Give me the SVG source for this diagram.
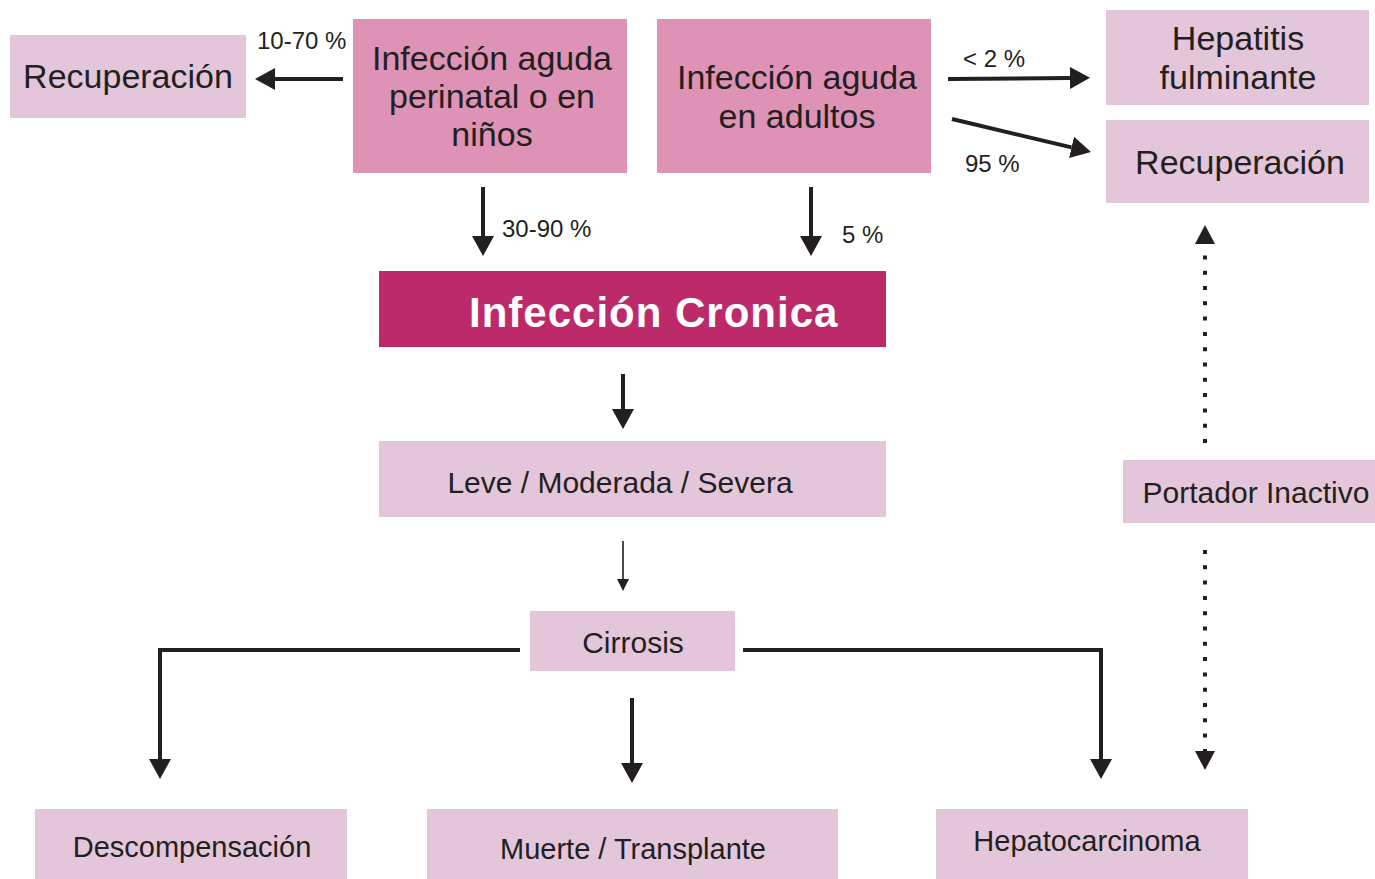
<svg xmlns="http://www.w3.org/2000/svg" width="1375" height="879" viewBox="0 0 1375 879">
<style>
.light{fill:#e3c6d9}
.mid{fill:#de93b6}
.dark{fill:#bd2a6a}
text{font-family:"Liberation Sans",Arial,sans-serif;fill:#231f20}
.big{font-size:34px;text-anchor:middle}
.med{font-size:30px;text-anchor:middle}
.sm{font-size:29px;text-anchor:middle}
.lbl{font-size:24px}
.title{font-size:42px;font-weight:bold;fill:#ffffff;letter-spacing:1px}
.ln{fill:none;stroke:#231f20;stroke-width:4}
.thin{fill:none;stroke:#231f20;stroke-width:1.6}
.dot{fill:none;stroke:#231f20;stroke-width:4;stroke-dasharray:4 11.3}
</style>
<defs>
<marker id="ah" markerUnits="userSpaceOnUse" markerWidth="20" markerHeight="22" refX="0" refY="11" orient="auto" viewBox="0 0 20 22">
<path d="M0,0 L20,11 L0,22 z" fill="#231f20"/>
</marker>
<marker id="ahs" markerUnits="userSpaceOnUse" markerWidth="12" markerHeight="12" refX="0" refY="6" orient="auto" viewBox="0 0 12 12">
<path d="M0,0 L12,6 L0,12 z" fill="#231f20"/>
</marker>
</defs>

<g id="recuperacion-izq">
<rect class="light" x="10" y="35" width="236" height="83"/>
<text class="big" x="128" y="88">Recuperación</text>
</g>
<g id="aguda-ninos">
<rect class="mid" x="353" y="19" width="274" height="154"/>
<text class="big" x="492" y="70">Infección aguda</text>
<text class="big" x="492" y="108">perinatal o en</text>
<text class="big" x="492" y="146">niños</text>
</g>
<g id="aguda-adultos">
<rect class="mid" x="657" y="19" width="274" height="154"/>
<text class="big" x="797" y="89">Infección aguda</text>
<text class="big" x="797" y="128">en adultos</text>
</g>
<g id="hepatitis">
<rect class="light" x="1106" y="10" width="263" height="95"/>
<text class="big" x="1238" y="50">Hepatitis</text>
<text class="big" x="1238" y="89">fulminante</text>
</g>
<g id="recuperacion-der">
<rect class="light" x="1106" y="120" width="263" height="83"/>
<text class="big" x="1240" y="174">Recuperación</text>
</g>
<g id="cronica">
<rect class="dark" x="379" y="271" width="507" height="76"/>
<text class="title" x="469" y="327">Infección Cronica</text>
</g>
<g id="leve">
<rect class="light" x="379" y="441" width="507" height="76"/>
<text class="med" x="620" y="493">Leve / Moderada / Severa</text>
</g>
<g id="cirrosis">
<rect class="light" x="530" y="611" width="205" height="60"/>
<text class="med" x="633" y="653">Cirrosis</text>
</g>
<g id="portador">
<rect class="light" x="1123" y="460" width="252" height="63"/>
<text class="med" x="1256" y="503">Portador Inactivo</text>
</g>
<g id="descompensacion">
<rect class="light" x="35" y="809" width="312" height="70"/>
<text class="sm" x="192" y="857">Descompensación</text>
</g>
<g id="muerte">
<rect class="light" x="427" y="809" width="411" height="70"/>
<text class="sm" x="633" y="859">Muerte / Transplante</text>
</g>
<g id="hepatocarcinoma">
<rect class="light" x="936" y="809" width="312" height="70"/>
<text class="sm" x="1087" y="851">Hepatocarcinoma</text>
</g>

<g id="connectors">
<line class="ln" x1="343" y1="79" x2="275" y2="79" marker-end="url(#ah)"/>
<line class="ln" x1="483" y1="187" x2="483" y2="236" marker-end="url(#ah)"/>
<line class="ln" x1="811" y1="187" x2="811" y2="236" marker-end="url(#ah)"/>
<line class="ln" x1="948" y1="79" x2="1070" y2="78" marker-end="url(#ah)"/>
<line class="ln" x1="952" y1="119" x2="1071.5" y2="147.4" marker-end="url(#ah)"/>
<line class="ln" x1="623" y1="374" x2="623" y2="409" marker-end="url(#ah)"/>
<line class="thin" x1="623" y1="541" x2="623" y2="579" marker-end="url(#ahs)"/>
<path class="ln" d="M520,650 H160 V759" marker-end="url(#ah)"/>
<path class="ln" d="M743,650 H1101 V759" marker-end="url(#ah)"/>
<line class="ln" x1="632" y1="698" x2="632" y2="763" marker-end="url(#ah)"/>
<line class="dot" x1="1205" y1="443" x2="1205" y2="244"/>
<path d="M1195,244 L1205,225 L1215,244 z" fill="#231f20"/>
<line class="dot" x1="1205" y1="550" x2="1205" y2="751"/>
<path d="M1195,751 L1205,770 L1215,751 z" fill="#231f20"/>
<text class="lbl" x="257" y="49">10-70 %</text>
<text class="lbl" x="502" y="237">30-90 %</text>
<text class="lbl" x="842" y="243">5 %</text>
<text class="lbl" x="963" y="67">&lt; 2 %</text>
<text class="lbl" x="965" y="172">95 %</text>
</g>
</svg>
